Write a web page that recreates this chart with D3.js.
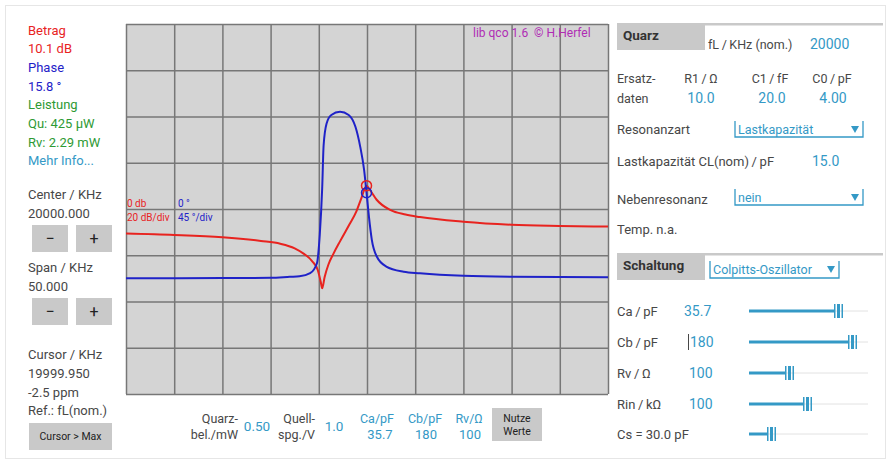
<!DOCTYPE html>
<html>
<head>
<meta charset="utf-8">
<script src="https://cdn.jsdelivr.net/npm/d3@7"></script>
<style>
body { margin: 0; background: #fff; }
svg { display: block; font-family: Roboto, "Noto Sans", sans-serif; }
</style>
</head>
<body>
<svg width="891" height="464"></svg>
<script>
// sweep settings
var centerKHz = 20000.000;
var spanKHz = 50.000;
var cursorKHz = 19999.950;
var cursorDb = 10.1;
var cursorPhase = 15.8;

// Betrag (dB)
var magFreq = [19975.0, 19980.0, 19985.0, 19989.0, 19991.0, 19992.5, 19993.5, 19994.3, 19994.9, 19995.2,
    19995.35, 19995.6, 19996.0, 19996.5, 19997.2, 19998.2, 19998.9, 19999.4, 19999.95, 20000.3,
    20001.0, 20002.4, 20004.0, 20005.5, 20010.0, 20015.0, 20020.0, 20025.0];
var magDb = [-10.6, -11.2, -12.2, -13.8, -15.0, -17.0, -19.5, -22.5, -26.5, -31.5,
    -34.3, -29.5, -24.0, -19.5, -14.0, -6.5, -1.0, 4.5, 10.1, 8.3,
    4.0, -0.4, -2.4, -3.5, -5.5, -6.8, -7.3, -7.6];

// Phase (deg)
var phFreq = [19975.0, 19985.0, 19990.0, 19992.0, 19993.0, 19994.1, 19994.8, 19995.1, 19995.35, 19995.5,
    19995.8, 19996.3, 19997.2, 19998.1, 19998.8, 19999.3, 19999.7, 19999.95, 20000.2, 20000.5,
    20001.0, 20002.0, 20003.8, 20005.5, 20010.0, 20015.0, 20025.0];
var phDeg = [-67.4, -67.2, -67.0, -66.0, -65.5, -62.5, -53.0, -25.0, 20.0, 62.0,
    83.0, 91.5, 94.7, 91.5, 80.0, 60.5, 38.0, 15.8, -7.5, -30.0,
    -46.0, -56.0, -61.0, -62.5, -65.0, -66.0, -66.5];

var dbPerDiv = 20, degPerDiv = 45, xDivs = 10, yDivs = 8;

var red = "#e8231f", blue = "#1f22c8", green = "#2e9a34", teal = "#3499c6", grey = "#474747";
var sl = "\u2009/\u2009"; // spaced slash used in the right panel

var svg = d3.select("svg");

svg.append("rect") // outer card
    .attr("x", 5.5).attr("y", 5.5).attr("width", 880).attr("height", 453)
    .style("fill", "#fff").style("stroke", "#e6e6e6");

// ---- plot ----
var px0 = 126, px1 = 608, py0 = 24, py1 = 394;

var xScale = d3.scaleLinear()
    .domain([centerKHz - spanKHz / 2, centerKHz + spanKHz / 2])
    .range([px0, px1]);
var yDb = d3.scaleLinear()
    .domain([-dbPerDiv * yDivs / 2, dbPerDiv * yDivs / 2])
    .range([py1, py0]);
var yPh = d3.scaleLinear()
    .domain([-degPerDiv * yDivs / 2, degPerDiv * yDivs / 2])
    .range([py1, py0]);

svg.append("rect")
    .attr("x", px0).attr("y", py0).attr("width", px1 - px0).attr("height", py1 - py0)
    .style("fill", "#d4d4d4");

var xTicks = d3.range(xDivs + 1).map(function (i) { return xScale.domain()[0] + i * spanKHz / xDivs; });
var yTicks = d3.range(yDivs + 1).map(function (i) { return yDb.domain()[0] + i * dbPerDiv; });

var gX = svg.append("g") // vertical grid
    .attr("transform", "translate(0," + py1 + ")")
    .call(d3.axisBottom(xScale).tickValues(xTicks).tickSize(-(py1 - py0)).tickFormat(""));
var gY = svg.append("g") // horizontal grid
    .attr("transform", "translate(" + px0 + ",0)")
    .call(d3.axisLeft(yDb).tickValues(yTicks).tickSize(-(px1 - px0)).tickFormat(""));
[gX, gY].forEach(function (g) {
    g.select(".domain").remove();
    g.selectAll("line").style("stroke", "#777").style("stroke-width", 1.5);
});

svg.append("text").attr("x", 473).attr("y", 37)
    .style("font-size", "12px").style("fill", "#b02cb4")
    .attr("xml:space", "preserve")
    .text("lib qco 1.6  \u00a9 H.Herfel");

svg.append("text").attr("x", 127).attr("y", 207).style("font-size", "10px").style("fill", red).text("0 db");
svg.append("text").attr("x", 127).attr("y", 221).style("font-size", "10px").style("fill", red).text("20 dB/div");
svg.append("text").attr("x", 178).attr("y", 207).style("font-size", "10px").style("fill", blue).text("0 \u00b0");
svg.append("text").attr("x", 178).attr("y", 221).style("font-size", "10px").style("fill", blue).text("45 \u00b0/div");

var magLine = d3.line()
    .x(function (d, i) { return xScale(magFreq[i]); })
    .y(function (d) { return yDb(d); })
    .curve(d3.curveMonotoneX);
var phLine = d3.line()
    .x(function (d, i) { return xScale(phFreq[i]); })
    .y(function (d) { return yPh(d); })
    .curve(d3.curveMonotoneX);

svg.append("path").attr("d", magLine(magDb))
    .style("fill", "none").style("stroke", red).style("stroke-width", 2);
svg.append("path").attr("d", phLine(phDeg))
    .style("fill", "none").style("stroke", blue).style("stroke-width", 2);

svg.append("circle").attr("cx", xScale(cursorKHz)).attr("cy", yDb(cursorDb)).attr("r", 5)
    .style("fill", "none").style("stroke", red).style("stroke-width", 1.5);
svg.append("circle").attr("cx", xScale(cursorKHz)).attr("cy", yPh(cursorPhase)).attr("r", 5)
    .style("fill", "none").style("stroke", blue).style("stroke-width", 1.5);

// ---- helpers ----
function label(x, y, txt, col, size, anchor, weight) {
    return svg.append("text").attr("x", x).attr("y", y)
        .style("font-size", (size || 13) + "px")
        .style("fill", col || grey)
        .style("text-anchor", anchor || "start")
        .style("font-weight", weight || "normal")
        .attr("dominant-baseline", "central")
        .text(txt);
}
function button(x, y, w, h, lines, size) {
    svg.append("rect").attr("x", x).attr("y", y).attr("width", w).attr("height", h).style("fill", "#c9c9c9");
    lines.forEach(function (t, i) {
        label(x + w / 2, y + h / 2 + (i - (lines.length - 1) / 2) * 13, t, "#222", size, "middle");
    });
}
function dropdown(x0, x1, yTop, yBot, txt) {
    svg.append("path")
        .attr("d", "M" + x0 + "," + yTop + "V" + yBot + "H" + x1 + "V" + yTop)
        .style("fill", "none").style("stroke", teal).style("stroke-width", 1.3);
    label(x0 + 3, (yTop + yBot) / 2, txt, teal, 12.5);
    svg.append("path")
        .attr("d", "M" + (x1 - 12) + "," + (yTop + 5) + "h8l-4,7z").style("fill", teal);
}
function slider(x0, x1, thumb, y) {
    svg.append("line").attr("x1", x0).attr("x2", x1).attr("y1", y).attr("y2", y)
        .style("stroke", "#e2e2e2").style("stroke-width", 1);
    svg.append("line").attr("x1", x0).attr("x2", thumb - 4).attr("y1", y).attr("y2", y)
        .style("stroke", teal).style("stroke-width", 3);
    svg.append("rect").attr("x", thumb - 5).attr("y", y - 7).attr("width", 1.5).attr("height", 14).style("fill", teal);
    svg.append("rect").attr("x", thumb - 2).attr("y", y - 7).attr("width", 3).attr("height", 14).style("fill", teal);
    svg.append("rect").attr("x", thumb + 2.5).attr("y", y - 7).attr("width", 1.5).attr("height", 14).style("fill", teal);
}

// ---- left panel ----
label(28, 30, "Betrag", red);
label(28, 48, cursorDb + " dB", red);
label(28, 67, "Phase", blue);
label(28, 86, cursorPhase + " \u00b0", blue);
label(28, 104, "Leistung", green);
label(28, 123, "Qu: 425 \u00b5W", green);
label(28, 142, "Rv: 2.29 mW", green);
label(28, 160, "Mehr Info...", teal);
label(28, 194, "Center / KHz");
label(28, 213, centerKHz.toFixed(3));
button(32, 225, 36, 27, ["\u2212"], 16);
button(76, 225, 36, 27, ["+"], 16);
label(28, 267, "Span / KHz");
label(28, 286, spanKHz.toFixed(3));
button(32, 298, 36, 27, ["\u2212"], 16);
button(76, 298, 36, 27, ["+"], 16);
label(28, 354, "Cursor / KHz");
label(28, 373, cursorKHz.toFixed(3));
label(28, 392, "-2.5 ppm");
label(28, 410, "Ref.: fL(nom.)");
button(29, 423, 83, 27, ["Cursor > Max"], 10.5);

// ---- bottom row ----
label(238, 418, "Quarz-", grey, 12.5, "end");
label(238, 434, "bel./mW", grey, 12.5, "end");
label(257, 426, "0.50", teal, 13.5, "middle");
label(315, 418, "Quell-", grey, 12.5, "end");
label(315, 434, "spg./V", grey, 12.5, "end");
label(334, 426, "1.0", teal, 13.5, "middle");
label(377, 418, "Ca/pF", teal, 12.5, "middle");
label(380, 434, "35.7", teal, 13, "middle");
label(425, 418, "Cb/pF", teal, 12.5, "middle");
label(426, 434, "180", teal, 13, "middle");
label(469, 418, "Rv/\u03a9", teal, 12.5, "middle");
label(470, 434, "100", teal, 13, "middle");
button(492, 408, 50, 33, ["Nutze", "Werte"], 10.5);

// ---- right panel ----
svg.append("rect").attr("x", 617).attr("y", 23).attr("width", 266).attr("height", 2.5).style("fill", "#c9c9c9");
svg.append("rect").attr("x", 617).attr("y", 23).attr("width", 88).attr("height", 27).style("fill", "#c9c9c9");
label(623, 35, "Quarz", "#333", 13.5, "start", "bold");
label(708, 44, "fL" + sl + "KHz (nom.)", grey, 12.5);
label(810, 44, "20000", teal, 14);
label(617, 78, "Ersatz-", grey, 12.5);
label(617, 98, "daten", grey, 12.5);
label(701, 78, "R1" + sl + "\u03a9", grey, 12.5, "middle");
label(701, 98, "10.0", teal, 14, "middle");
label(770, 78, "C1" + sl + "fF", grey, 12.5, "middle");
label(772, 98, "20.0", teal, 14, "middle");
label(832, 78, "C0" + sl + "pF", grey, 12.5, "middle");
label(833, 98, "4.00", teal, 14, "middle");
label(617, 129, "Resonanzart", grey, 13);
dropdown(735, 863, 121, 137, "Lastkapazit\u00e4t");
label(617, 161, "Lastkapazit\u00e4t CL(nom)" + sl + "pF", grey, 13);
label(812, 161, "15.0", teal, 14);
label(617, 199, "Nebenresonanz", grey, 13);
dropdown(735, 863, 189, 205, "nein");
label(617, 229, "Temp. n.a.", grey, 13);

svg.append("rect").attr("x", 617).attr("y", 253).attr("width", 266).attr("height", 2.5).style("fill", "#c9c9c9");
svg.append("rect").attr("x", 617).attr("y", 253).attr("width", 88).attr("height", 27).style("fill", "#c9c9c9");
label(623, 265, "Schaltung", "#333", 13.5, "start", "bold");
dropdown(710, 839, 261, 278, "Colpitts-Oszillator");

label(617, 311, "Ca" + sl + "pF", grey, 13);
label(684, 311, "35.7", teal, 14);
slider(749, 868, 839, 311);
label(617, 342, "Cb" + sl + "pF", grey, 13);
svg.append("line").attr("x1", 688.5).attr("x2", 688.5).attr("y1", 334).attr("y2", 350).style("stroke", grey).style("stroke-width", 1);
label(690, 342, "180", teal, 14);
slider(749, 868, 853, 342);
label(617, 373, "Rv" + sl + "\u03a9", grey, 13);
label(689, 373, "100", teal, 14);
slider(749, 868, 790, 373);
label(617, 404, "Rin" + sl + "k\u03a9", grey, 13);
label(689, 404, "100", teal, 14);
slider(749, 868, 808, 404);
label(617, 434, "Cs = 30.0 pF", grey, 13);
slider(749, 868, 772, 434);
</script>
</body>
</html>
